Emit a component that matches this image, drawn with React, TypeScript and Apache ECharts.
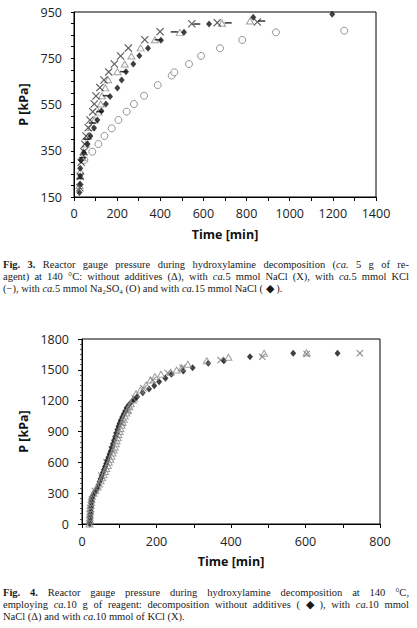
import React, { useEffect, useRef } from 'react';
import * as echarts from 'echarts';

const W = 417;
const H = 628;

// ---------- Fig. 3 data: [time min, pressure kPa] ----------
const f3NoAdditives: [number, number][] = [
  [26, 200], [30, 260], [40, 320], [44, 346], [55, 379], [65, 414], [80, 450], [95, 483],
  [114, 517], [124, 552], [130, 588], [145, 622], [158, 657], [201, 692], [235, 725],
  [266, 760], [309, 795], [375, 830], [491, 862], [686, 901], [816, 911],
];
const f3NaCl5: [number, number][] = [
  [27, 190], [29, 240], [33, 300], [46, 346], [50, 378], [56, 414], [66, 450], [74, 483],
  [87, 519], [94, 552], [102, 587], [120, 623], [139, 656], [161, 691], [187, 725],
  [216, 760], [252, 794], [328, 830], [399, 865], [546, 899], [664, 904], [850, 907],
];
const f3KCl5: [number, number][] = [
  [28, 230], [40, 320], [60, 400], [85, 470], [120, 519], [149, 588], [230, 692],
  [390, 830], [465, 864], [569, 898], [715, 903], [870, 911],
];
const f3Na2SO4: [number, number][] = [
  [48, 310], [85, 346], [113, 379], [141, 414], [175, 447], [206, 483], [244, 519],
  [278, 552], [325, 588], [388, 634], [453, 675], [465, 689], [533, 725], [589, 760],
  [677, 793], [780, 829], [936, 862], [1253, 869],
];
const f3NaCl15: [number, number][] = [
  [25, 170], [28, 206], [29, 241], [29, 274], [32, 309], [46, 341], [63, 379], [76, 414],
  [93, 448], [108, 483], [127, 522], [148, 552], [167, 585], [201, 621], [221, 656],
  [241, 692], [275, 725], [303, 761], [343, 793], [403, 828], [510, 862], [626, 898],
  [831, 927], [1197, 940],
];

// ---------- Fig. 4 data ----------
const f4NoAdditives: [number, number][] = [
  [21, 0], [21, 25], [22, 50], [22, 75], [23, 100], [23, 125], [24, 150], [24, 175],
  [25, 200], [26, 225], [27, 250], [29, 275], [32, 300], [37, 325], [41, 350], [44, 380],
  [47, 410], [50, 440], [53, 470], [56, 500], [59, 530], [62, 560], [65, 590], [68, 620],
  [71, 650], [74, 680], [77, 710], [80, 745], [83, 780], [86, 815], [89, 850], [92, 885],
  [95, 920], [98, 950], [101, 980], [104, 1010], [108, 1040], [112, 1070], [116, 1100],
  [120, 1130], [126, 1160], [134, 1191], [141, 1215], [148, 1239], [163, 1278], [180, 1314],
  [194, 1346], [207, 1385], [224, 1418], [240, 1457], [272, 1489], [297, 1521], [339, 1564],
  [381, 1589], [451, 1628], [567, 1661], [686, 1661],
];
const f4NaCl10: [number, number][] = [
  [20, 0], [20, 30], [21, 60], [21, 90], [22, 120], [22, 150], [23, 180], [24, 210],
  [25, 240], [27, 270], [31, 300], [36, 330], [42, 360], [46, 390], [50, 420], [54, 450],
  [58, 480], [62, 510], [65, 540], [69, 570], [72, 600], [76, 630], [79, 660], [82, 690],
  [85, 720], [88, 750], [91, 780], [93, 810], [96, 840], [98, 870], [101, 900], [103, 930],
  [106, 960], [109, 990], [112, 1020], [115, 1050], [119, 1080], [123, 1110], [127, 1140],
  [131, 1170], [137, 1207], [145, 1266], [157, 1304], [172, 1353], [184, 1401], [196, 1434],
  [212, 1457], [238, 1476], [254, 1498], [268, 1521], [284, 1554], [335, 1589], [393, 1622],
  [489, 1661], [603, 1667],
];
const f4KCl10: [number, number][] = [
  [22, 40], [24, 140], [27, 240], [35, 320], [52, 470], [66, 600], [80, 730], [94, 860],
  [108, 980], [124, 1100], [142, 1220], [165, 1320], [190, 1400], [230, 1470], [270, 1520],
  [372, 1596], [484, 1628], [603, 1654], [746, 1661],
];

// ---------- captions ----------
const fig3Caption = [
  '^Fig. 3.^ Reactor gauge pressure during hydroxylamine decomposition (_ca._ 5 g of re-',
  'agent) at 140 °C: without additives (Δ), with _ca._5 mmol NaCl (X), with _ca._5 mmol KCl',
  '(−), with _ca._5 mmol Na₂SO₄ (O) and with _ca._15 mmol NaCl ( ◆ ).',
];
const fig4Caption = [
  '^Fig. 4.^ Reactor gauge pressure during hydroxylamine decomposition at 140 °C,',
  'employing _ca._10 g of reagent: decomposition without additives ( ◆ ), with _ca._10 mmol',
  'NaCl (Δ) and with _ca._10 mmol of KCl (X).',
];

const CAP_FAMILY = "'Liberation Serif', 'Times New Roman', serif";
const CAP_SIZE = 10.5;
const CAP_LH = 12;
const AX_FAMILY = "'Open Sans', sans-serif";
const AX_SIZE = 12.5;

const X_SYMBOL = 'path://M0 1 L1 0 L5 4 L9 0 L10 1 L6 5 L10 9 L9 10 L5 6 L1 10 L0 9 L4 5 Z';

type Run = { text: string; bold: boolean; italic: boolean };

function parseLine(line: string): Run[][] {
  const words: Run[][] = [];
  let bold = false;
  let italic = false;
  let cur: Run[] = [];
  const push = (ch: string) => {
    const last = cur[cur.length - 1];
    if (last && last.bold === bold && last.italic === italic) last.text += ch;
    else cur.push({ text: ch, bold, italic });
  };
  for (const ch of line) {
    if (ch === '^') bold = !bold;
    else if (ch === '_') italic = !italic;
    else if (ch === ' ') {
      if (cur.length) words.push(cur);
      cur = [];
    } else push(ch);
  }
  if (cur.length) words.push(cur);
  return words;
}

function captionElements(lines: string[], y0: number, lh: number, x0: number, x1: number) {
  const canvas = document.createElement('canvas');
  const ctx = canvas.getContext('2d')!;
  const fontOf = (r: Run) =>
    `${r.italic ? 'italic ' : ''}${r.bold ? 'bold ' : ''}${CAP_SIZE}px ${CAP_FAMILY}`;
  const measure = (r: Run) => {
    ctx.font = fontOf(r);
    return ctx.measureText(r.text).width;
  };
  ctx.font = `${CAP_SIZE}px ${CAP_FAMILY}`;
  const spaceW = ctx.measureText(' ').width;
  const els: any[] = [];
  lines.forEach((line, i) => {
    const words = parseLine(line);
    const widths = words.map((w) => w.map(measure));
    const total = widths.reduce((s, w) => s + w.reduce((a, b) => a + b, 0), 0);
    const last = i === lines.length - 1;
    const gap = last || words.length < 2 ? spaceW : Math.max(1.5, (x1 - x0 - total) / (words.length - 1));
    let x = x0;
    const y = y0 + i * lh;
    words.forEach((w, wi) => {
      w.forEach((r, ri) => {
        els.push({
          type: 'text',
          x,
          y,
          silent: true,
          style: {
            text: r.text,
            fontSize: CAP_SIZE,
            fontFamily: CAP_FAMILY,
            fontWeight: r.bold ? 'bold' : 'normal',
            fontStyle: r.italic ? 'italic' : 'normal',
            fill: '#1a1a1a',
            align: 'left',
            verticalAlign: 'middle',
          },
        });
        x += widths[wi][ri];
      });
      x += gap;
    });
  });
  return els;
}

function axisCommon() {
  return {
    axisLine: { show: true, lineStyle: { color: '#000', width: 1 } },
    splitLine: { show: false },
    axisTick: { show: true, inside: false, length: 4, lineStyle: { color: '#000' } },
    axisLabel: { color: '#222', fontFamily: AX_FAMILY, fontSize: AX_SIZE },
    nameTextStyle: { color: '#111', fontFamily: AX_FAMILY, fontSize: AX_SIZE, fontWeight: 'bold' },
    nameLocation: 'middle' as const,
  };
}

function buildOption() {
  const triStyle = { color: 'rgba(255,255,255,0)', borderColor: '#8a8a8a', borderWidth: 1 };
  return {
    animation: false,
    backgroundColor: '#fff',
    textStyle: { fontFamily: AX_FAMILY },
    grid: [
      { left: 74, top: 12, width: 302, height: 185, show: true, borderColor: '#000', borderWidth: 1, backgroundColor: 'transparent' },
      { left: 82, top: 339, width: 298, height: 185, show: true, borderColor: '#000', borderWidth: 1, backgroundColor: 'transparent' },
    ],
    xAxis: [
      {
        ...axisCommon(),
        type: 'value',
        gridIndex: 0,
        min: 0,
        max: 1400,
        interval: 100,
        name: 'Time [min]',
        nameGap: 31,
        axisLabel: {
          ...axisCommon().axisLabel,
          margin: 10,
          formatter: (v: number) => (v % 200 === 0 ? String(v) : ''),
        },
      },
      {
        ...axisCommon(),
        type: 'value',
        gridIndex: 1,
        min: 0,
        max: 800,
        interval: 100,
        name: 'Time [min]',
        nameGap: 31,
        axisLabel: {
          ...axisCommon().axisLabel,
          margin: 11,
          formatter: (v: number) => (v % 200 === 0 ? String(v) : ''),
        },
      },
    ],
    yAxis: [
      {
        ...axisCommon(),
        type: 'value',
        gridIndex: 0,
        min: 150,
        max: 950,
        interval: 50,
        name: 'P [kPa]',
        nameGap: 36,
        axisTick: { show: true, inside: false, length: 3, lineStyle: { color: '#000' } },
        axisLabel: {
          ...axisCommon().axisLabel,
          margin: 12,
          formatter: (v: number) => ((v - 150) % 200 === 0 ? String(v) : ''),
        },
      },
      {
        ...axisCommon(),
        type: 'value',
        gridIndex: 1,
        min: 0,
        max: 1800,
        interval: 300,
        name: 'P [kPa]',
        nameGap: 45,
        minorTick: { show: true, splitNumber: 6, length: 2, lineStyle: { color: '#555' } },
        axisLabel: { ...axisCommon().axisLabel, margin: 13, formatter: (v: number) => String(v) },
      },
    ],
    series: [
      {
        type: 'scatter', name: 'Na2SO4 5 mmol', xAxisIndex: 0, yAxisIndex: 0, data: f3Na2SO4,
        symbol: 'circle', symbolSize: 7,
        itemStyle: { color: '#fff', borderColor: '#7a7a7a', borderWidth: 1 },
      },
      {
        type: 'scatter', name: 'no additives', xAxisIndex: 0, yAxisIndex: 0, data: f3NoAdditives,
        symbol: 'triangle', symbolSize: [7, 6], itemStyle: triStyle,
      },
      {
        type: 'scatter', name: 'NaCl 5 mmol', xAxisIndex: 0, yAxisIndex: 0, data: f3NaCl5,
        symbol: X_SYMBOL, symbolSize: 8, itemStyle: { color: '#333' },
      },
      {
        type: 'scatter', name: 'KCl 5 mmol', xAxisIndex: 0, yAxisIndex: 0, data: f3KCl5,
        symbol: 'rect', symbolSize: [7, 1.6], itemStyle: { color: '#111' },
      },
      {
        type: 'scatter', name: 'NaCl 15 mmol', xAxisIndex: 0, yAxisIndex: 0, data: f3NaCl15,
        symbol: 'diamond', symbolSize: [6, 7], itemStyle: { color: '#111' },
      },
      {
        type: 'scatter', name: 'KCl 10 mmol', xAxisIndex: 1, yAxisIndex: 1, data: f4KCl10,
        symbol: X_SYMBOL, symbolSize: 7, itemStyle: { color: '#666' },
      },
      {
        type: 'scatter', name: 'no additives 10 g', xAxisIndex: 1, yAxisIndex: 1, data: f4NoAdditives,
        symbol: 'diamond', symbolSize: [6, 7], itemStyle: { color: '#111' },
      },
      {
        type: 'scatter', name: 'NaCl 10 mmol', xAxisIndex: 1, yAxisIndex: 1, data: f4NaCl10,
        symbol: 'triangle', symbolSize: [7, 6], itemStyle: triStyle,
      },
    ],
    graphic: [
      ...captionElements(fig3Caption, 264, CAP_LH, 3, 409),
      ...captionElements(fig4Caption, 592, CAP_LH, 3, 409),
    ],
  };
}

export default function App() {
  const ref = useRef<HTMLDivElement>(null);
  useEffect(() => {
    const chart = echarts.init(ref.current!, null, { renderer: 'svg' });
    chart.setOption(buildOption() as any);
    return () => chart.dispose();
  }, []);
  return (
    <div
      ref={ref}
      style={{ position: 'absolute', left: 0, top: 0, width: W, height: H, background: '#fff' }}
    />
  );
}
